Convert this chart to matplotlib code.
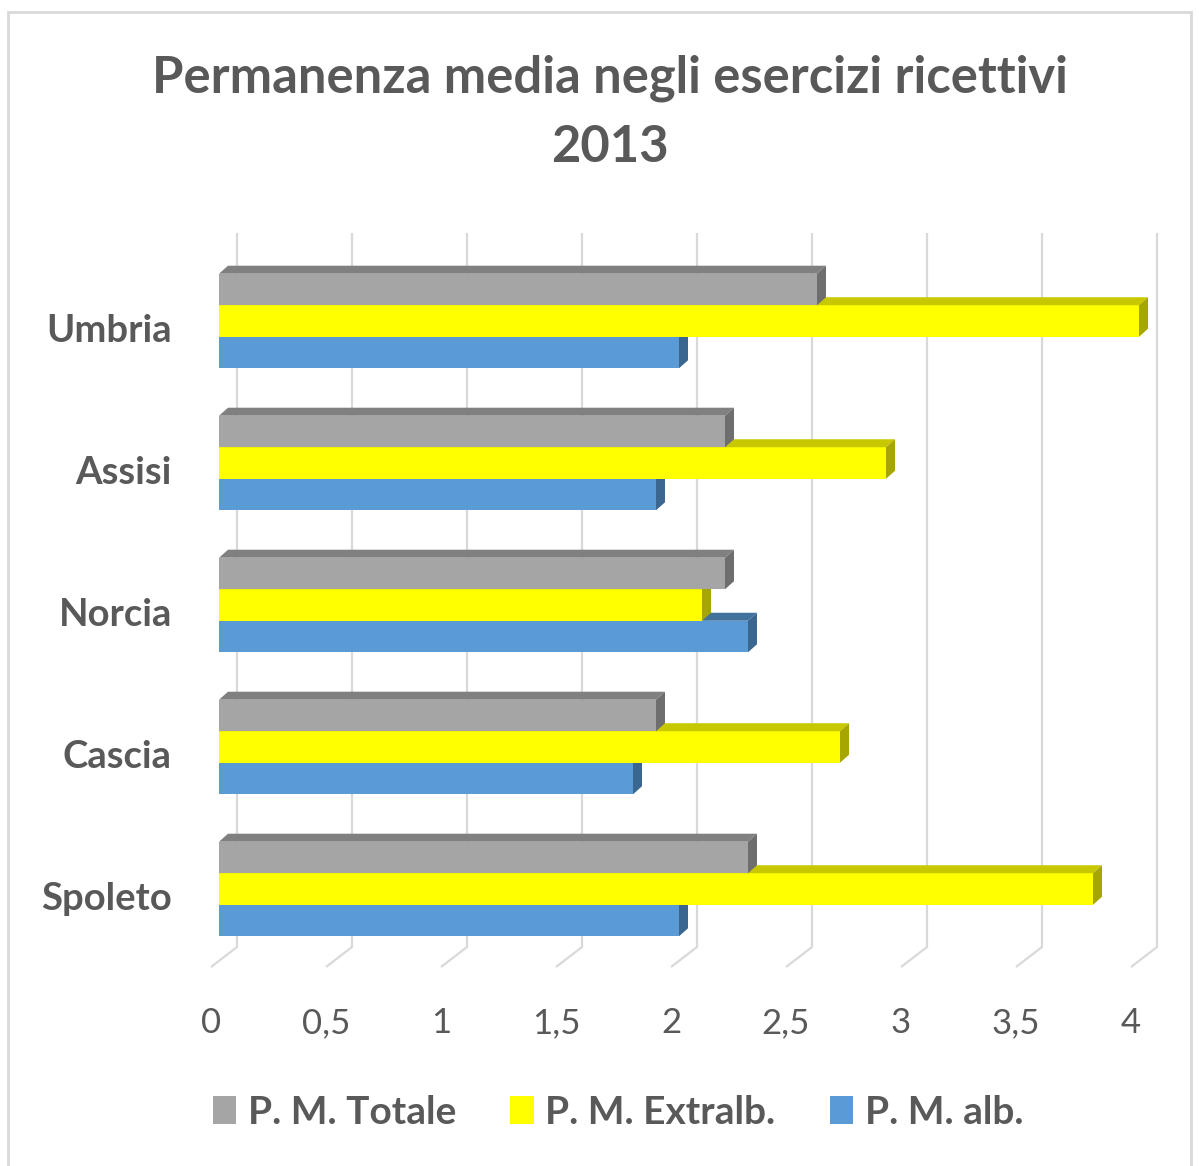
import matplotlib.pyplot as plt
import numpy as np
from matplotlib.patches import Patch, Polygon, Rectangle
from matplotlib.transforms import ScaledTranslation

# Dati: permanenza media 2013
categorie = ['Umbria', 'Assisi', 'Norcia', 'Cascia', 'Spoleto']
pm_totale = [2.6, 2.2, 2.2, 1.9, 2.3]
pm_extralb = [4.0, 2.9, 2.1, 2.7, 3.8]
pm_alb = [2.0, 1.9, 2.3, 1.8, 2.0]
serie_nomi = ['P. M. Totale', 'P. M. Extralb.', 'P. M. alb.']
x_ticks = [0, 0.5, 1, 1.5, 2, 2.5, 3, 3.5, 4]
x_labels = ['0', '0,5', '1', '1,5', '2', '2,5', '3', '3,5', '4']

# colori delle facce: fronte, sopra, lato
colori = {
    'P. M. Totale': ('#a5a5a5', '#808080', '#6e6e6e'),
    'P. M. Extralb.': ('#ffff00', '#c8c800', '#a6a600'),
    'P. M. alb.': ('#5b9bd5', '#41729e', '#3a6690'),
}
testo = '#595959'
griglia = '#d9d9d9'

plt.rcParams['font.family'] = ['Lato', 'DejaVu Sans']

W, H = 1199, 1166
fig = plt.figure(figsize=(W / 100, H / 100), dpi=100)
ax = fig.add_axes([219 / W, (H - 960) / H, 920 / W, 710 / H])
ax.set_xlim(0, 4)
ax.set_ylim(-0.5, 4.5)
for s in ax.spines.values():
    s.set_visible(False)

# pixel -> unita' dati
sx = 920 / 4
sy = 710 / 5

# griglia "3D": linee sulla parete di fondo + diagonale sul pavimento
for v in x_ticks:
    xb = v + 18 / sx
    xf = v - 8 / sx
    ax.plot([xb, xb, xf], [4.5 + 17 / sy, -0.5 + 13 / sy, -0.5 - 7 / sy],
            color=griglia, lw=1.6, zorder=1, clip_on=False, solid_capstyle='butt')

# barre con profondita'
y_pos = np.arange(len(categorie))[::-1]
h = 0.222
dx, dy = 9 / sx, 8 / sy
serie = [(pm_alb, -h, 'P. M. alb.', 2), (pm_extralb, 0, 'P. M. Extralb.', 3),
         (pm_totale, h, 'P. M. Totale', 4)]
for valori, off, nome, z in serie:
    fronte, sopra, lato = colori[nome]
    ax.barh(y_pos + off, valori, height=h, color=fronte, linewidth=0, zorder=z)
    for y, v in zip(y_pos + off, valori):
        yt, yb = y + h / 2, y - h / 2
        ax.add_patch(Polygon([(0, yt), (v, yt), (v + dx, yt + dy), (dx, yt + dy)],
                             closed=True, facecolor=sopra, lw=0, zorder=z, clip_on=False))
        ax.add_patch(Polygon([(v, yb), (v + dx, yb + dy), (v + dx, yt + dy), (v, yt)],
                             closed=True, facecolor=lato, lw=0, zorder=z, clip_on=False))

# assi
ax.set_xticks(x_ticks, x_labels)
ax.tick_params(axis='x', length=0, pad=34, labelsize=25, labelcolor=testo)
for lbl in ax.get_xticklabels():
    lbl.set_transform(lbl.get_transform() + ScaledTranslation(-8 / 100, 0, fig.dpi_scale_trans))
ax.set_yticks(y_pos, categorie)
ax.tick_params(axis='y', length=0, pad=34, labelsize=27.5, labelcolor=testo)
for lbl in ax.get_yticklabels():
    lbl.set_fontweight('bold')
    lbl.set_transform(lbl.get_transform() + ScaledTranslation(0, -7 / 100, fig.dpi_scale_trans))

# titolo
fig.text(610 / W, 1 - 54 / H, 'Permanenza media negli esercizi ricettivi\n2013',
         ha='center', va='top', fontsize=36.5, fontweight='bold', color=testo,
         linespacing=1.58)

# legenda
handles = [Patch(facecolor=colori[n][0], edgecolor='none', label=n) for n in serie_nomi]
leg = fig.legend(handles=handles, loc='center', bbox_to_anchor=(618 / W, 1 - 1112 / H),
                 ncol=3, frameon=False, fontsize=28, handlelength=0.6, handleheight=0.7,
                 handletextpad=0.3, columnspacing=1.4)
for t in leg.get_texts():
    t.set_color(testo)
    t.set_fontweight('bold')

# cornice esterna
fig.patches.append(Rectangle((8 / W, -0.01), 1183 / W, 1 - 12 / H + 0.01,
                             transform=fig.transFigure, fill=False,
                             edgecolor=griglia, lw=2))

fig.savefig('out.png', dpi=100, facecolor='white')
